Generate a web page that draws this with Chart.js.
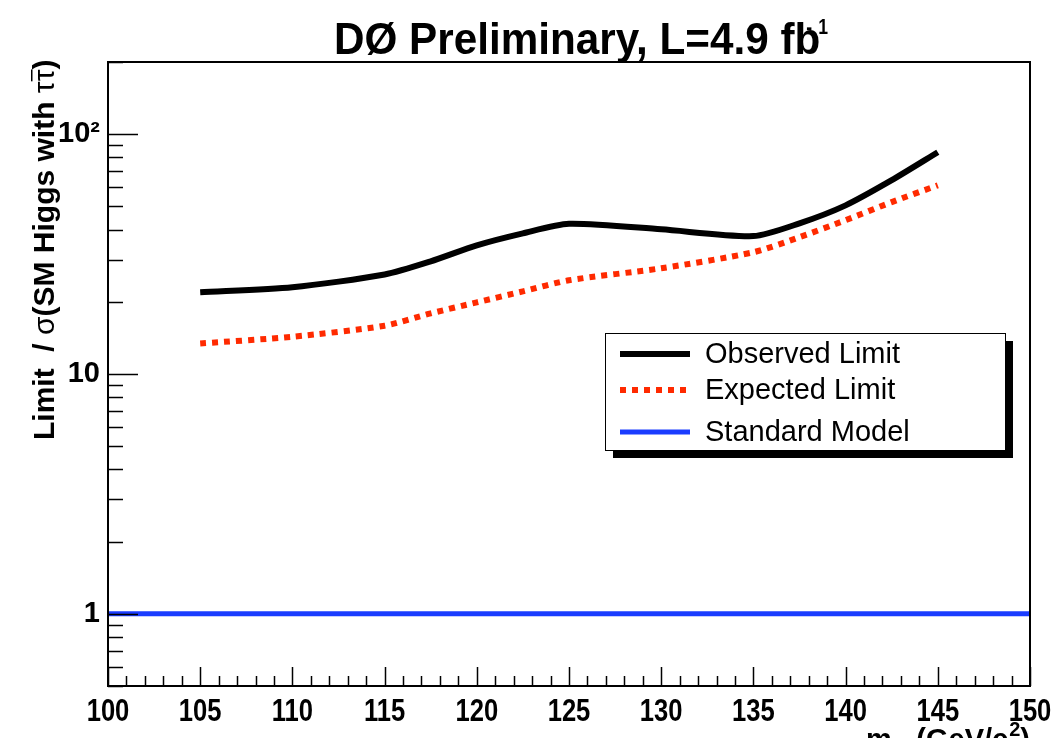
<!DOCTYPE html>
<html>
<head>
<meta charset="utf-8">
<title>Higgs tau tau limit</title>
<script src="https://cdn.jsdelivr.net/npm/chart.js@4.4.1/dist/chart.umd.min.js"></script>
<style>
  html, body { margin: 0; padding: 0; background: #fff; }
  #wrap { width: 1056px; height: 738px; overflow: hidden; }
</style>
</head>
<body>
<div id="wrap"><canvas id="limitChart" width="1056" height="738"></canvas></div>
<script>
// Higgs mass points (GeV/c^2) and the limits relative to the SM cross section
var massPoints = [105, 110, 115, 117.5, 120, 122.5, 125, 130, 135, 137.5, 140, 142.5, 145];
var observedLimit = [21.9, 23.0, 26.0, 29.5, 34.4, 38.6, 42.3, 40.1, 37.6, 42.5, 50.5, 64.3, 84.1];
var expectedLimit = [13.4, 14.3, 15.9, 17.9, 19.9, 22.1, 24.6, 27.6, 32.2, 37.2, 43.8, 52.1, 61.2];
var smMass = [100, 150];
var smLimit = [1, 1];

var xTickLabels = [100, 105, 110, 115, 120, 125, 130, 135, 140, 145, 150];
var yTickValues = [1, 10, 100];
var yTickLabels = ['1', '10', '10\u00b2'];

var plainFont = "'Liberation Sans', Arial, sans-serif";

function toPoints(xs, ys) {
    return xs.map(function (x, i) { return { x: x, y: ys[i] }; });
}

// squeezed text, like the condensed Helvetica used for the title and x labels
function narrowText(ctx, text, x, y, squeeze, align) {
    ctx.save();
    var w = ctx.measureText(text).width * squeeze;
    var left = x;
    if (align === 'center') left = x - w / 2;
    if (align === 'right') left = x - w;
    ctx.translate(left, y);
    ctx.scale(squeeze, 1);
    ctx.textAlign = 'left';
    ctx.fillText(text, 0, 0);
    ctx.restore();
    return w;
}

// ROOT-like frame: border, inward ticks, legend with shadow, titles
var frameDecor = {
    id: 'frameDecor',
    afterDraw: function (chart) {
        var ctx = chart.ctx;
        var a = chart.chartArea;
        var xs = chart.scales.x, ys = chart.scales.y;
        ctx.save();

        // frame
        ctx.strokeStyle = '#000';
        ctx.lineWidth = 2;
        ctx.strokeRect(a.left, a.top, a.right - a.left, a.bottom - a.top);

        // x ticks (major every 5, minor every 1)
        ctx.lineWidth = 1.5;
        ctx.beginPath();
        for (var m = 100; m <= 150; m++) {
            var px = Math.round(xs.getPixelForValue(m)) + 0.5;
            var len = (m % 5 === 0) ? 19 : 10;
            ctx.moveTo(px, a.bottom);
            ctx.lineTo(px, a.bottom - len);
        }
        // y ticks on the log axis
        for (var d = -1; d <= 2; d++) {
            for (var k = 1; k <= 9; k++) {
                var v = k * Math.pow(10, d);
                if (v < 0.5 || v > 200) continue;
                var py = Math.round(ys.getPixelForValue(v)) + 0.5;
                var l = (k === 1) ? 30 : 15;
                ctx.moveTo(a.left, py);
                ctx.lineTo(a.left + l, py);
            }
        }
        ctx.stroke();

        // x tick labels
        ctx.fillStyle = '#000';
        ctx.textBaseline = 'alphabetic';
        ctx.font = 'bold 32px ' + plainFont;
        xTickLabels.forEach(function (val) {
            narrowText(ctx, String(val), xs.getPixelForValue(val), 721, 0.8, 'center');
        });

        // legend box with drop shadow
        var bx = 605, by = 333, bw = 400, bh = 117;
        ctx.fillStyle = '#000';
        ctx.fillRect(bx + 8, by + 8, bw, bh);
        ctx.fillStyle = '#fff';
        ctx.fillRect(bx, by, bw, bh);
        ctx.lineWidth = 1;
        ctx.strokeStyle = '#000';
        ctx.strokeRect(bx + 0.5, by + 0.5, bw, bh);
        var rowsY = [354, 390, 432];
        chart.data.datasets.forEach(function (ds, i) {
            ctx.beginPath();
            ctx.strokeStyle = ds.borderColor;
            ctx.lineWidth = ds.borderWidth;
            ctx.setLineDash(ds.borderDash || []);
            ctx.moveTo(620, rowsY[i]);
            ctx.lineTo(690, rowsY[i]);
            ctx.stroke();
            ctx.setLineDash([]);
            ctx.fillStyle = '#000';
            ctx.font = '29px ' + plainFont;
            ctx.textBaseline = 'middle';
            ctx.textAlign = 'left';
            ctx.fillText(ds.label, 705, rowsY[i] + 1);
        });

        // title
        ctx.textBaseline = 'alphabetic';
        ctx.fillStyle = '#000';
        ctx.font = 'bold 44px ' + plainFont;
        var tw = narrowText(ctx, 'D\u00d8 Preliminary, L=4.9 fb', 334, 54, 0.96, 'left');
        ctx.font = 'bold 22px ' + plainFont;
        narrowText(ctx, '-', 334 + tw - 14, 34, 0.8, 'left');
        narrowText(ctx, '1', 334 + tw - 2, 34, 0.8, 'left');

        // x axis title (runs off the bottom edge)
        ctx.textAlign = 'right';
        ctx.font = 'bold 29px ' + plainFont;
        var xr = 1030;
        ctx.fillText(')', xr, 749);
        xr -= ctx.measureText(')').width;
        ctx.font = 'bold 20px ' + plainFont;
        ctx.fillText('2', xr, 736);
        xr -= ctx.measureText('2').width + 1;
        ctx.font = 'bold 29px ' + plainFont;
        ctx.fillText('(GeV/c', xr, 749);
        xr -= ctx.measureText('(GeV/c').width + 10;
        ctx.font = 'bold 20px ' + plainFont;
        ctx.fillText('H', xr, 757);
        xr -= ctx.measureText('H').width;
        ctx.font = 'bold 29px ' + plainFont;
        ctx.fillText('m', xr, 749);

        // y axis title, rotated
        ctx.translate(54, 440);
        ctx.rotate(-Math.PI / 2);
        ctx.textAlign = 'left';
        var parts = [
            ['Limit  / ', 'bold 30px ' + plainFont],
            ['\u03c3', '30px ' + plainFont],
            ['(SM Higgs with ', 'bold 30px ' + plainFont],
            ['\u03c4\u03c4', '30px ' + plainFont],
            [')', 'bold 30px ' + plainFont]
        ];
        var cx = 0;
        parts.forEach(function (p) {
            ctx.font = p[1];
            ctx.fillText(p[0], cx, 0);
            var w = ctx.measureText(p[0]).width;
            if (p[0] === '\u03c4\u03c4') {
                // bar over the second tau
                ctx.fillRect(cx + w / 2, -23, w / 2, 1.5);
            }
            cx += w;
        });

        ctx.restore();
    }
};

var ctxEl = document.getElementById('limitChart');

var limitChart = new Chart(ctxEl, {
    type: 'line',
    data: {
        datasets: [{
            label: 'Observed Limit',
            data: toPoints(massPoints, observedLimit),
            borderColor: '#000000',
            borderWidth: 6,
            pointRadius: 0,
            tension: 0.25,
            fill: false
        }, {
            label: 'Expected Limit',
            data: toPoints(massPoints, expectedLimit),
            borderColor: '#ff2a00',
            borderWidth: 6,
            borderDash: [6, 6],
            borderCapStyle: 'butt',
            pointRadius: 0,
            tension: 0.25,
            fill: false
        }, {
            label: 'Standard Model',
            data: toPoints(smMass, smLimit),
            borderColor: '#1a3cff',
            borderWidth: 5,
            pointRadius: 0,
            tension: 0,
            fill: false
        }]
    },
    options: {
        responsive: false,
        devicePixelRatio: 1,
        animation: false,
        layout: { padding: { left: 0, right: 26, top: 62, bottom: 0 } },
        plugins: {
            legend: { display: false },
            tooltip: { enabled: false },
            title: { display: false }
        },
        scales: {
            x: {
                type: 'linear',
                min: 100,
                max: 150,
                grid: { display: false },
                border: { display: false },
                afterBuildTicks: function (scale) {
                    scale.ticks = xTickLabels.map(function (v) { return { value: v }; });
                },
                afterFit: function (scale) { scale.height = 52; },
                ticks: { display: false }
            },
            y: {
                type: 'logarithmic',
                min: 0.5,
                max: 200,
                grid: { display: false },
                border: { display: false },
                afterBuildTicks: function (scale) {
                    scale.ticks = yTickValues.map(function (v) { return { value: v }; });
                },
                afterFit: function (scale) { scale.width = 108; },
                ticks: {
                    color: '#000',
                    padding: 0,
                    autoSkip: false,
                    font: { family: plainFont, size: 29, weight: 'bold' },
                    callback: function (value) {
                        var i = yTickValues.indexOf(value);
                        return i >= 0 ? yTickLabels[i] : '';
                    }
                }
            }
        }
    },
    plugins: [frameDecor]
});
</script>
</body>
</html>
